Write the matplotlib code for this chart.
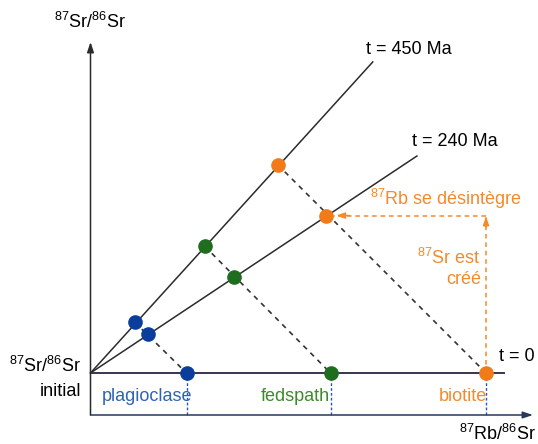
import matplotlib
matplotlib.use('Agg')
import matplotlib.pyplot as plt

plt.rcParams['font.family'] = ['Liberation Sans', 'DejaVu Sans']
plt.rcParams['mathtext.fontset'] = 'custom'
plt.rcParams['mathtext.rm'] = 'Liberation Sans'
plt.rcParams['mathtext.it'] = 'Liberation Sans:italic'

# schematic isochron diagram (arbitrary units, initial ratio at y = 0)
minerals = ['plagioclase', 'fedspath', 'biotite']
point_colors = ['#0b3e9c', '#1f6d1f', '#f27a18']
label_colors = ['#2f63b5', '#3c8a2c', '#f58a2a']

rb_now = [1.0, 2.5, 4.12]            # 87Rb/86Sr today (t = 0)
x_240 = [0.60, 1.49, 2.45]
y_240 = [0.41, 1.00, 1.64]
x_450 = [0.46, 1.19, 1.95]
y_450 = [0.53, 1.32, 2.17]

iso_450_end = (2.94, 3.24)
iso_240_end = (3.40, 2.26)
iso_0_end = 4.31

x_axis_y = -0.4375
PX = 96.0  # pixels per unit

fig = plt.figure(figsize=(5.38, 4.44), dpi=100)
ax = fig.add_axes([0, 0, 1, 1])
ax.set_xlim(-90.5 / PX, (538 - 90.5) / PX)
ax.set_ylim(-(444 - 373) / PX, 373 / PX)
ax.axis('off')

line_c = '#2b2b2b'
# axes with arrows
ax.annotate('', xy=(0, (373 - 42) / PX), xytext=(0, x_axis_y),
            arrowprops=dict(arrowstyle='-|>,head_length=0.6,head_width=0.2', color=line_c, lw=1.1,
                            shrinkA=0, shrinkB=0))
ax.annotate('', xy=((533 - 90.5) / PX, x_axis_y), xytext=(0, x_axis_y),
            arrowprops=dict(arrowstyle='-|>,head_length=0.6,head_width=0.2', color='#27385a', lw=1.1,
                            shrinkA=0, shrinkB=0))

# isochrons
ax.plot([0, iso_450_end[0]], [0, iso_450_end[1]], color=line_c, lw=1.1)
ax.plot([0, iso_240_end[0]], [0, iso_240_end[1]], color=line_c, lw=1.1)
ax.plot([0, iso_0_end], [0, 0], color='#3a3550', lw=1.4)

# decay paths
for i in range(3):
    ax.plot([x_450[i], rb_now[i]], [y_450[i], 0], color='#333333', lw=1.2,
            linestyle=(0, (3, 3)))
    ax.plot([rb_now[i], rb_now[i]], [0, x_axis_y], color='#2a55c0', lw=1.0,
            linestyle=(0, (2, 1.5)))

# orange arrows
oc = '#f58a2a'
ax.plot([rb_now[2], rb_now[2]], [0, y_240[2]], color=oc, lw=1.1, linestyle=(0, (3, 2.5)))
ax.plot([rb_now[2], x_240[2] + 0.07], [y_240[2], y_240[2]], color=oc, lw=1.1, linestyle=(0, (3, 2.5)))
ax.annotate('', xy=(rb_now[2], y_240[2] - 0.01), xytext=(rb_now[2], y_240[2] - 0.12),
            arrowprops=dict(arrowstyle='-|>,head_length=0.5,head_width=0.18', color=oc, lw=1.1,
                            shrinkA=0, shrinkB=0))
ax.annotate('', xy=(x_240[2] + 0.11, y_240[2]), xytext=(x_240[2] + 0.25, y_240[2]),
            arrowprops=dict(arrowstyle='-|>,head_length=0.5,head_width=0.18', color=oc, lw=1.1,
                            shrinkA=0, shrinkB=0))

# points
for i in range(3):
    for xs, ys in ((x_450[i], y_450[i]), (x_240[i], y_240[i]), (rb_now[i], 0)):
        ax.plot(xs, ys, 'o', color=point_colors[i], markersize=9.5, zorder=5)

def px(x, y):
    return ((x - 90.5) / PX, (373 - y) / PX)

fs = 13
ax.text(*px(90, 22), r'$^{87}$Sr/$^{86}$Sr', ha='center', va='center', fontsize=fs)
ax.text(*px(81, 366), r'$^{87}$Sr/$^{86}$Sr', ha='right', va='center', fontsize=fs)
ax.text(*px(81, 391), 'initial', ha='right', va='center', fontsize=fs)
ax.text(*px(366, 49), 't = 450 Ma', ha='left', va='center', fontsize=fs)
ax.text(*px(412, 141), 't = 240 Ma', ha='left', va='center', fontsize=fs)
ax.text(*px(499, 356), 't = 0', ha='left', va='center', fontsize=fs)
ax.text(*px(536, 434), r'$^{87}$Rb/$^{86}$Sr', ha='right', va='center', fontsize=fs)

label_x = [147, 295, 463]
for i in range(3):
    ax.text(*px(label_x[i], 396), minerals[i], ha='center', va='center',
            fontsize=fs, color=label_colors[i])

ax.text(*px(522, 199), r'$^{87}$Rb se désintègre', ha='right', va='center', fontsize=fs, color=oc)
ax.text(*px(481, 258), r'$^{87}$Sr est', ha='right', va='center', fontsize=fs, color=oc)
ax.text(*px(481, 279), 'créé', ha='right', va='center', fontsize=fs, color=oc)

fig.savefig('out.png', dpi=100)
